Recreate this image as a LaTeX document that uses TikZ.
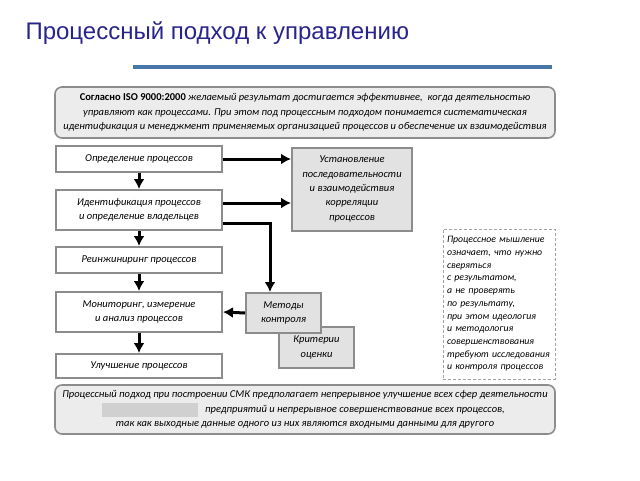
\documentclass[tikz,border=0pt]{standalone}
\usepackage{fontspec}
\setmainfont{Liberation Sans}
\newfontfamily\boxfont{Carlito}
\usetikzlibrary{positioning}
\usetikzlibrary{arrows.meta}
\definecolor{titleblue}{RGB}{40,36,140}
\definecolor{linesteel}{RGB}{72,118,168}
\definecolor{boxline}{RGB}{140,140,140}
\definecolor{boxgray}{RGB}{226,226,226}
\definecolor{notegray}{RGB}{236,236,236}
\definecolor{hidegray}{RGB}{208,208,208}
\tikzset{
    procbox/.style = {rectangle, line width=2pt, draw=boxline, fill=white, minimum width=166pt, align=center, inner sep=0pt},
    graybox/.style = {rectangle, line width=2pt, draw=boxline, fill=boxgray, align=center, inner sep=0pt},
    notebox/.style = {rectangle, rounded corners=7pt, line width=1.6pt, draw=boxline, fill=notegray, minimum width=500pt, align=center, inner sep=0pt},
    dashbox/.style = {rectangle, draw=boxline!80, densely dashed, line width=0.6pt, align=left, inner sep=0pt},
    edgen/.style = {-{Latex[length=10pt,width=11pt]}, line width=3pt}, % black flow
    boxtext/.style = {font=\boxfont\itshape\fontsize{10.5}{14.3}\selectfont}
}

\begin{document}
\begin{tikzpicture}[x=1pt, y=-1pt, boxtext]
  \useasboundingbox (0,0) rectangle (640,480);

  \node[anchor=base west, text=titleblue, font=\fontsize{24}{28}\selectfont] (title) at (22,39) {Процессный подход к управлению};
  \fill[linesteel] (133,65) rectangle (552,69);

  \node[notebox, minimum height=51pt] (iso) at (305,112.5) {{\upshape\bfseries Согласно ISO 9000:2000} желаемый результат достигается эффективнее, \ когда деятельностью\\
    управляют как процессами. При этом под процессным подходом понимается систематическая\\
    идентификация и менеджмент применяемых организацией процессов и обеспечение их взаимодействия};

  \node[procbox, minimum height=26pt] (b1) at (139,159) {Определение процессов};
  \node[procbox, minimum height=40pt] (b2) at (139,210) {Идентификация процессов\\и определение владельцев};
  \node[procbox, minimum height=26pt] (b3) at (139,260) {Реинжиниринг процессов};
  \node[procbox, minimum height=40pt] (b4) at (139,312) {Мониторинг, измерение\\и анализ процессов};
  \node[procbox, minimum height=24pt] (b5) at (139,366) {Улучшение процессов};

  \node[graybox, minimum width=120pt, minimum height=83pt] (ust) at (352,189) {Установление\\последовательности\\и взаимодействия\\корреляции\\процессов};
  \node[graybox, minimum width=75pt, minimum height=41pt] (krit) at (316.5,347.5) {Критерии\\оценки};
  \node[graybox, minimum width=75pt, minimum height=40pt] (metody) at (283.5,313) {Методы\\контроля};

  \node[dashbox, minimum width=112pt, minimum height=150pt, text width=104pt, font=\boxfont\itshape\fontsize{9.8}{12.7}\selectfont] (think) at (499,304)
    {Процессное мышление\\означает, что нужно\\сверяться\\с результатом,\\а не проверять\\по результату,\\при этом идеология\\и методология\\совершенствования\\требуют исследования\\и контроля процессов};

  \node[notebox, minimum height=49pt] (smk) at (305,409.5) {Процессный подход при построении СМК предполагает непрерывное улучшение всех сфер деятельности\\
    \hspace*{100pt}предприятий и непрерывное совершенствование всех процессов,\\
    так как выходные данные одного из них являются входными данными для другого};
  \fill[hidegray] (102,403) rectangle (198,417);

  \draw[edgen] (b1) -- (b2);
  \draw[edgen] (b2) -- (b3);
  \draw[edgen] (b3) -- (b4);
  \draw[edgen] (b4) -- (b5);
  \draw[edgen] (b1.east) -- (b1.east -| ust.west);
  \draw[edgen] ([yshift=7pt]b2.east) -- ([yshift=7pt]b2.east -| ust.west);
  \draw[edgen] ([yshift=-13pt]b2.east) -| ([xshift=-13.5pt]metody.north);
  \draw[edgen] (metody.west) -- (b4.east);
\end{tikzpicture}
\end{document}
